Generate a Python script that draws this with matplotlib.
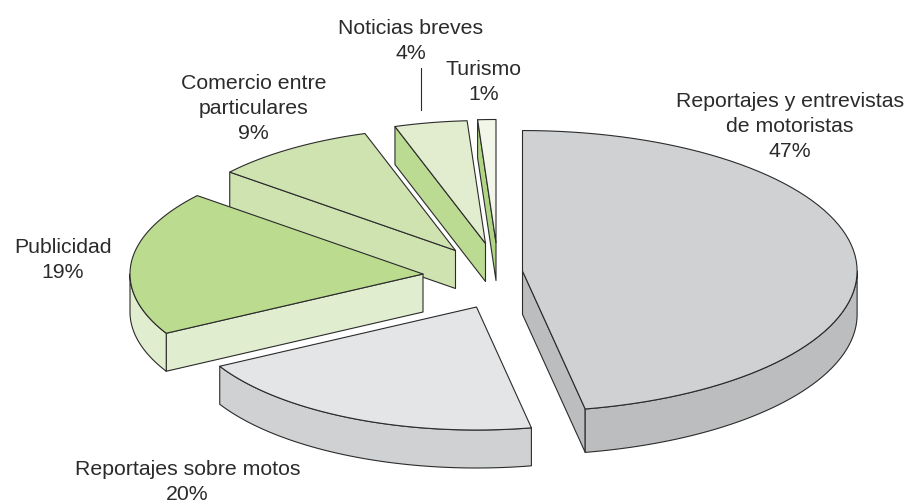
import numpy as np
import matplotlib
matplotlib.use('Agg')
import matplotlib.pyplot as plt
from matplotlib.patches import Polygon

# datos: en orden de las agujas del reloj desde arriba
categorias = ['Reportajes y entrevistas\nde motoristas', 'Reportajes sobre motos', 'Publicidad',
              'Comercio entre\nparticulares', 'Noticias breves', 'Turismo']
porcentajes = [47, 20, 19, 9, 4, 1]

# estilo de cada sector
centros = [(522.5, 272), (476.5, 308), (423, 275), (455.5, 251.5), (485.5, 244.5), (496, 243.5)]
escalas = [1.142, 1, 1, 1, 1, 1]
color_cara = ['#d0d1d3', '#e4e5e7', '#bbdb8f', '#cfe3b1', '#e2edcf', '#f1f6e9']
color_lado = ['#bcbdbf', '#d0d1d3', '#e1edcf', '#cfe3b1', '#bcdb92', '#b0d584']
# x centro, y de la linea base de la ultima linea
pos_texto = [(790, 157), (187.5, 500), (63, 278), (253.5, 139), (410.5, 59), (484, 100)]
orden = [5, 4, 3, 2, 1, 0]  # de atras hacia delante

RX, RY, GROSOR = 293, 123, 38
TINTA = '#2b2b2b'

plt.rcParams['font.family'] = ['Liberation Sans', 'DejaVu Sans']

fig = plt.figure(figsize=(9.08, 5.02), dpi=100)
ax = fig.add_axes([0, 0, 1, 1])
ax.set_xlim(0, 908)
ax.set_ylim(502, 0)
ax.axis('off')


def punto(c, esc, ang):
    # angulo en grados desde arriba, sentido horario
    t = np.radians(ang)
    return c[0] + RX * esc * np.sin(t), c[1] - RY * esc * np.cos(t)


def poli(pts, color, z):
    ax.add_patch(Polygon(pts, closed=True, facecolor=color, edgecolor=TINTA,
                         linewidth=0.8, joinstyle='round', zorder=z))


inicios = np.cumsum([0] + porcentajes[:-1]) * 3.6
for z, i in enumerate(orden):
    a1 = inicios[i]
    a2 = a1 + porcentajes[i] * 3.6
    c = centros[i]
    esc = escalas[i]
    h = GROSOR * esc
    zz = z * 10

    arco = [punto(c, esc, a) for a in np.linspace(a1, a2, 80)]

    # pared del radio visible
    if 180 < a1 < 360:
        p = punto(c, esc, a1)
        poli([c, p, (p[0], p[1] + h), (c[0], c[1] + h)], color_lado[i], zz)
    if 0 < a2 < 180:
        p = punto(c, esc, a2)
        poli([c, p, (p[0], p[1] + h), (c[0], c[1] + h)], color_lado[i], zz)

    # pared del borde, solo la parte de delante
    b1, b2 = max(a1, 90), min(a2, 270)
    if b2 > b1:
        borde = [punto(c, esc, a) for a in np.linspace(b1, b2, 80)]
        abajo = [(x, y + h) for x, y in borde[::-1]]
        poli(borde + abajo, color_lado[i], zz + 1)

    # cara de arriba
    poli([c] + arco, color_cara[i], zz + 2)

for i, nombre in enumerate(categorias):
    ax.text(pos_texto[i][0], pos_texto[i][1], '%s\n%d%%' % (nombre, porcentajes[i]),
            ha='center', va='baseline', fontsize=15.3, color='#2b2b2b', linespacing=1.4, zorder=100)

# linea de Noticias breves
ax.plot([420.5, 420.5], [69, 111], color=TINTA, lw=0.8, zorder=100)

fig.savefig('out.png', dpi=100)
